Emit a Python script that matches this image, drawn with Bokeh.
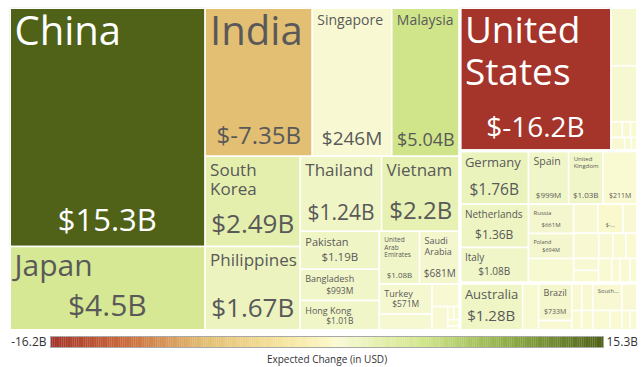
import numpy as np
from bokeh.plotting import figure
from bokeh.models import ColumnDataSource, Range1d
from bokeh.layouts import column
from bokeh.embed import file_html
from bokeh.resources import INLINE
from bokeh.core.properties import value

# ---------------- data ----------------
countries = ["China", "Japan", "India", "Singapore", "Malaysia", "South Korea", "Philippines",
             "Thailand", "Vietnam", "Pakistan", "Bangladesh", "Hong Kong", "United Arab Emirates",
             "Saudi Arabia", "Turkey", "", "", "", "", "", "", "",
             "United States", "", "", "", "", "", "", "", "",
             "Germany", "Netherlands", "Italy", "Spain", "United Kingdom", "", "Russia", "Poland",
             "", "", "", "", "", "", "", "", "", "", "", "", "", "",
             "Australia", "", "Brazil", "", "", "", "", "", "South Africa", "", "", "", "", ""]
sizes = [466, 164, 159, 118, 101, 85.5, 79.8, 60.8, 58.5, 30.0, 24.5, 23.7, 21.2, 21.2, 15.9,
         8.5, 6.2, 3.8, 0.8, 0.8, 0.8, 0.5,
         216, 15.4, 14.8, 1.8, 1.3, 1.1, 1.8, 0.9, 0.8,
         36.6, 29.5, 24.3, 21.4, 18.2, 18.5, 13.1, 11.3, 11.0,
         7.0, 7.3, 4.2, 6.3, 3.5, 3.3, 2.9, 3.0, 3.1, 3.2, 2.0, 2.5, 1.8,
         29.7, 7.6, 12.4, 3.3, 2.75, 2.0, 3.0, 2.2, 8.0, 4.3, 3.4, 2.4, 1.6, 1.5]
changes = [15.3, 4.5, -7.35, 0.246, 5.04, 2.49, 1.67, 1.24, 2.2, 1.19, 0.993, 1.01, 1.08,
           0.681, 0.571, 0.45, 0.35, 0.3, 0.2, 0.25, 0.2, 0.15,
           -16.2, 0.45, 0.45, 0.3, 0.25, 0.2, 0.3, 0.2, 0.2,
           1.76, 1.36, 1.08, 0.999, 1.03, 0.211, 0.661, 0.694, 0.4,
           0.35, -0.1, 0.3, 0.3, 0.25, 0.2, 0.2, 0.25, 0.2, 0.2, 0.15, 0.2, 0.15,
           1.28, 0.4, 0.733, 0.3, 0.25, 0.2, 0.25, 0.2, 0.3, 0.25, 0.2, 0.2, 0.15, 0.15]
cmin, cmax = -16.2, 15.3
bar_labels = ["-16.2B", "15.3B"]
bar_title = "Expected Change (in USD)"

# ---------------- layout tree (leaves = indices; upper-case split = group) ----------------
def N(split, *kids):
    return (split, list(kids))

asia = N("H", N("v", 0, 1),
         N("v", N("h", 2, 3, 4),
           N("h", N("v", 5, 6),
             N("v", N("h", 7, 8),
               N("h", N("v", 9, 10, 11),
                 N("v", N("h", 12, 13),
                   N("h", N("v", 14, 15),
                     N("v", 16, N("h", 17, N("v", N("h", 18, 19), 20, 21))))))))))
na = N("H", 22, N("v", 23, 24, N("h", 25, 26, 27), N("h", 28, 29, 30)))
europe = N("H", N("v", 31, 32, 33),
           N("v", N("h", 34, 35, 36),
             N("h", N("v", 37, 38, 39),
               N("v", N("h", 40, 41, 42), N("h", 43, 44, 45, 46),
                 N("h", N("v", 47, 48), 49, 50, 51, 52)))))
other = N("H", 53, 54, N("v", 55, 56), N("h", N("v", 57, 58), N("v", 59, 60)),
          N("v", N("h", 61, 62), N("h", 63, 64, 65, 66)))
root = N("h", asia, N("v", na, europe, other))

def total(node):
    if isinstance(node, int):
        return sizes[node]
    return sum(total(k) for k in node[1])

rects = {}
groups = []

def place(node, x0, y0, x1, y1):
    if isinstance(node, int):
        rects[node] = (x0, y0, x1, y1)
        return
    split, kids = node
    if split.isupper():
        groups.append((x0, y0, x1, y1))
    t = total(node)
    pos = x0 if split.lower() == "h" else y0
    for k in kids:
        f = total(k) / t
        if split.lower() == "h":
            w = (x1 - x0) * f
            place(k, pos, y0, pos + w, y1)
            pos += w
        else:
            h = (y1 - y0) * f
            place(k, x0, pos, x1, pos + h)
            pos += h

place(root, 0.0, 0.0, 1.0, 1.0)

# ---------------- colour scale ----------------
stop_vals = [-16.2, -12.0, -7.35, -3.0, -0.5, 0.0, 0.3, 1.0, 1.76, 2.49, 4.5, 5.04, 10.0, 15.3]
stop_cols = ["#A5342A", "#C96A3B", "#E3BF73", "#F6E49C", "#FBF5C2", "#FAF9D0", "#F8F9D3",
             "#F1F6C8", "#EBF3BD", "#E4EFAD", "#D6E893", "#D0E58A", "#8DAB45", "#4F6218"]

def hex2rgb(h):
    return np.array([int(h[i:i + 2], 16) for i in (1, 3, 5)], dtype=float)

stop_rgb = np.array([hex2rgb(c) for c in stop_cols])

def color_of(v):
    r = [np.interp(v, stop_vals, stop_rgb[:, j]) for j in range(3)]
    return "#%02x%02x%02x" % tuple(int(round(c)) for c in r)

def fmt(v):
    if abs(v) >= 1:
        return "$%sB" % ("%.3g" % v)
    return "$%sM" % ("%.3g" % (v * 1000))

# ---------------- figure ----------------
PAGE_W = 643
ML, MR, MT = 9, 6, 7
W_PX, H_PX = PAGE_W - ML - MR, 323
p = figure(width=PAGE_W, height=H_PX + MT, x_range=Range1d(0, 1), y_range=Range1d(1, 0),
           toolbar_location=None, output_backend="svg",
           min_border_left=ML, min_border_right=MR, min_border_top=MT, min_border_bottom=0)
p.axis.visible = False
p.grid.visible = False
p.outline_line_color = None
p.background_fill_color = "white"

idx = list(range(len(countries)))
cells = ColumnDataSource(dict(
    left=[rects[i][0] for i in idx], right=[rects[i][2] for i in idx],
    top=[rects[i][1] for i in idx], bottom=[rects[i][3] for i in idx],
    color=[color_of(changes[i]) for i in idx]))
p.quad(left="left", right="right", top="top", bottom="bottom", source=cells,
       fill_color="color", line_color="white", line_width=1.5)
p.quad(left=[g[0] for g in groups], right=[g[2] for g in groups],
       top=[g[1] for g in groups], bottom=[g[3] for g in groups],
       fill_color=None, line_color="white", line_width=3)

# label styles: index -> (name px, value px, text colour, name truncation, value truncation)
DARK = "#595959"
label_style = {
    0: (40, 31, "white", None, None), 1: (30, 30, DARK, None, None),
    2: (40, 24, DARK, None, None), 3: (14, 19, DARK, None, None),
    4: (14, 18, DARK, None, None), 5: (17, 26, DARK, None, None),
    6: (17, 26, DARK, None, None), 7: (17, 21, DARK, None, None),
    8: (17, 24, DARK, None, None), 9: (11, 11.5, DARK, None, None),
    10: (9, 8.5, DARK, None, None), 11: (9, 8.5, DARK, None, None),
    12: (6.5, 8, DARK, None, None), 13: (9, 10, DARK, None, None),
    14: (9, 8.5, DARK, None, None), 22: (37, 28, "white", None, None),
    31: (13, 15.5, DARK, None, None), 32: (10, 12, DARK, None, None),
    33: (10, 10, DARK, None, None), 34: (10.5, 8, DARK, None, None),
    35: (6, 8, DARK, None, None), 36: (None, 7, DARK, None, None),
    37: (6, 6, DARK, None, None), 38: (5.5, 5.5, DARK, None, None),
    41: (None, 5.5, DARK, None, 2), 53: (13, 15, DARK, None, None),
    55: (9, 7, DARK, None, None), 61: (6, None, DARK, 5, None),
}

def wrap(text, fs, avail):
    words = text.split(" ")
    lines, cur = [], ""
    for w in words:
        trial = (cur + " " + w).strip()
        if cur and len(trial) * 0.56 * fs > avail:
            lines.append(cur)
            cur = w
        else:
            cur = trial
    lines.append(cur)
    return lines

BASE_SHIFT = 0.4  # empirical baseline correction (fraction of font size)
tx, ty, tt, tfs, tcol, talign, txo, tyo = [], [], [], [], [], [], [], []
for i, (nf, vf, col, ntr, vtr) in label_style.items():
    x0, y0, x1, y1 = rects[i]
    wpx = (x1 - x0) * W_PX
    if nf is not None:
        name = countries[i]
        lines = [name[:ntr].strip() + "..."] if ntr else wrap(name, nf, wpx - 10)
        for k, line in enumerate(lines):
            tx.append(x0); ty.append(y0); tt.append(line); tfs.append("%gpx" % nf)
            tcol.append(col); talign.append("left"); txo.append(5)
            tyo.append(6 + (0.8 - BASE_SHIFT) * nf + k * 1.15 * nf)
    if vf is not None:
        s = fmt(changes[i])
        if vtr:
            s = s[:vtr] + "..."
        tx.append((x0 + x1) / 2); ty.append(y1); tt.append(s); tfs.append("%gpx" % vf)
        tcol.append(col); talign.append("center"); txo.append(0)
        tyo.append(-(4 + (0.35 + BASE_SHIFT) * vf))

labels = ColumnDataSource(dict(x=tx, y=ty, text=tt, fs=tfs, col=tcol, align=talign, xo=txo, yo=tyo))
p.text(x="x", y="y", text="text", source=labels, text_font=value("Open Sans"),
       text_font_size="fs", text_color="col", text_align="align",
       text_baseline="alphabetic", x_offset="xo", y_offset="yo")

# ---------------- colour bar ----------------
CB_H = 37
# bar edges in frame pixels (frame is aligned with the treemap frame)
bar_l, bar_r = 50 - ML, 603 - ML
k = (cmax - cmin) / (bar_r - bar_l)
cb = figure(width=PAGE_W, height=CB_H, x_range=Range1d(cmin - bar_l * k, cmax + (W_PX - bar_r) * k),
            y_range=Range1d(CB_H, 0), toolbar_location=None, output_backend="svg",
            min_border_left=ML, min_border_right=MR, min_border_top=0, min_border_bottom=0)
cb.axis.visible = False
cb.grid.visible = False
cb.outline_line_color = None
edges = np.linspace(cmin, cmax, 301)
mids = (edges[:-1] + edges[1:]) / 2
cb.quad(left=edges[:-1], right=edges[1:] + 0.01, top=6, bottom=17,
        fill_color=[color_of(v) for v in mids], line_color=None)
cb.quad(left=[cmin], right=[cmax], top=[6], bottom=[17], fill_color=None,
        line_color="#A8A8A8", line_width=1)
cb.text(x=[cmin, cmax], y=[11, 11], text=bar_labels,
        text_align=["right", "left"], x_offset=[-4, 3], text_font=value("Open Sans"),
        text_font_size="12px", text_color="#333333", text_baseline="alphabetic")
cb.text(x=[(cmin + cmax) / 2], y=[28], text=[bar_title], text_align="center",
        text_font=value("Open Sans"), text_font_size="10px", text_color="#333333",
        text_baseline="alphabetic")

layout = column(p, cb, spacing=0)
open("out.html", "w").write(file_html(layout, INLINE))
